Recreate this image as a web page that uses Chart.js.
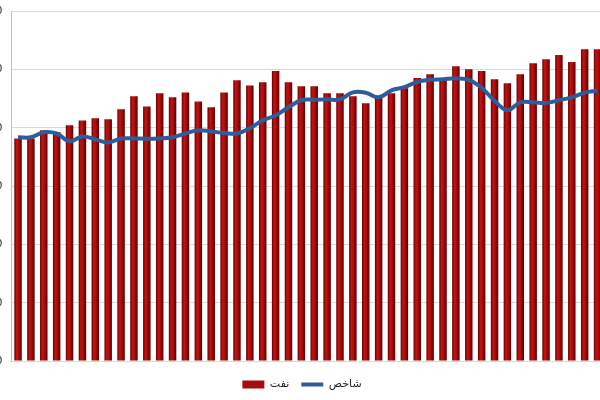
<!DOCTYPE html>
<html lang="fa">
<head>
  <meta charset="UTF-8">
  <title>نفت و شاخص</title>
  <script src="https://cdn.jsdelivr.net/npm/chart.js"></script>
  <style>
    html, body {
      margin: 0;
      padding: 0;
      background: #fff;
      overflow: hidden;
    }
    #oilChart {
      position: absolute;
      left: -40px;
      top: 0;
    }
  </style>
</head>
<body>
  <canvas id="oilChart" width="644" height="400"></canvas>

  <script>
    // 46 periods, no x labels are shown in the picture
    const periods = ['1','2','3','4','5','6','7','8','9','10','11','12','13','14','15','16',
      '17','18','19','20','21','22','23','24','25','26','27','28','29','30','31','32',
      '33','34','35','36','37','38','39','40','41','42','43','44','45','46'];

    // نفت (bars)
    const oil = [76.3, 76.3, 79.1, 78.4, 80.8, 82.5, 83.2, 82.9, 86.3, 90.8,
      87.3, 91.8, 90.4, 92.1, 89.0, 87.0, 92.1, 96.3, 94.5, 95.6,
      99.4, 95.6, 94.2, 94.2, 91.8, 91.8, 90.8, 88.4, 90.4, 91.8,
      93.5, 97.0, 98.3, 96.3, 101.1, 100.0, 99.4, 96.6, 95.2, 98.3,
      102.1, 103.5, 104.9, 102.5, 106.9, 106.9];

    // شاخص (line)
    const index = [76.7, 76.7, 78.4, 78.0, 75.3, 77.0, 76.0, 74.9, 76.3, 76.3,
      76.2, 76.3, 76.7, 78.0, 79.1, 78.7, 78.2, 78.0, 79.8, 82.5,
      84.2, 87.0, 89.4, 89.6, 89.7, 89.7, 92.1, 92.0, 90.4, 92.8,
      93.9, 95.7, 96.4, 96.6, 96.9, 96.4, 93.7, 89.2, 86.0, 88.7,
      88.7, 88.5, 89.4, 90.4, 92.0, 92.7];

    const yTicks = [0, 20, 40, 60, 80, 100, 120];

    const BAR_PCT = 0.58;

    // cylinder look: dark edges, bright red middle
    function barFill(c) {
      const chart = c.chart;
      const x = chart.scales && chart.scales.x;
      if (c.type !== 'data' || !x || !chart.chartArea) return '#a80c0c';
      const cx = x.getPixelForValue(c.dataIndex);
      const w = (x.width / periods.length) * BAR_PCT;
      const g = chart.ctx.createLinearGradient(cx - w / 2, 0, cx + w / 2, 0);
      g.addColorStop(0, '#5c0000');
      g.addColorStop(0.3, '#c41212');
      g.addColorStop(0.55, '#b10c0c');
      g.addColorStop(1, '#560000');
      return g;
    }

    const ctx = document.getElementById('oilChart').getContext('2d');

    const oilChart = new Chart(ctx, {
      data: {
        labels: periods,
        datasets: [
          {
            type: 'bar',
            label: 'نفت',
            data: oil,
            backgroundColor: barFill,
            borderWidth: 0,
            barPercentage: BAR_PCT,
            categoryPercentage: 1,
            pointStyle: 'rect',
            order: 2
          },
          {
            type: 'line',
            label: 'شاخص',
            data: index,
            borderColor: '#2f5d9c',
            backgroundColor: '#2f5d9c',
            borderWidth: 4,
            tension: 0.4,
            pointRadius: 0,
            fill: false,
            pointStyle: 'line',
            order: 1
          }
        ]
      },
      options: {
        responsive: false,
        animation: false,
        layout: {
          // left padding pushes the legend to the right; y axis width compensates
          padding: { top: 11, right: 0, bottom: 0, left: 40 }
        },
        scales: {
          x: {
            grid: { display: false },
            ticks: { display: false },
            border: { display: false },
            afterFit: s => { s.height = 6; }
          },
          y: {
            min: 0,
            max: 120,
            afterBuildTicks: s => { s.ticks = yTicks.map(v => ({ value: v })); },
            afterFit: s => {
              s.width = 11.6;
              s.paddingTop = 0;
              s.paddingBottom = 0;
            },
            ticks: {
              color: '#333',
              padding: 9,
              font: { family: 'DejaVu Sans', size: 11 }
            },
            grid: { color: '#d9d9d9', drawTicks: false },
            border: { color: '#bfbfbf' }
          }
        },
        plugins: {
          tooltip: { enabled: false },
          legend: {
            position: 'bottom',
            labels: {
              usePointStyle: true,
              pointStyleWidth: 22,
              boxHeight: 8,
              padding: 12,
              color: '#222',
              font: { family: 'DejaVu Sans', size: 11 },
              sort: (a, b) => a.datasetIndex - b.datasetIndex,
              generateLabels: chart => {
                const items = Chart.defaults.plugins.legend.labels.generateLabels(chart);
                items.forEach(it => {
                  if (it.datasetIndex === 0) {
                    it.fillStyle = '#a80c0c';
                    it.strokeStyle = '#a80c0c';
                    it.lineWidth = 0;
                  }
                });
                return items;
              }
            }
          }
        }
      }
    });
  </script>
</body>
</html>
